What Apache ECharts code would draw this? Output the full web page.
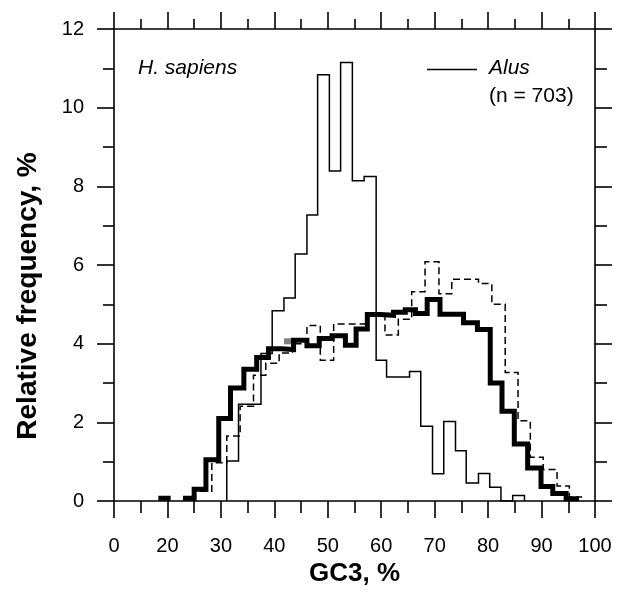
<!DOCTYPE html>
<html>
<head>
<meta charset="utf-8">
<script src="https://cdn.jsdelivr.net/npm/echarts@6/dist/echarts.min.js"></script>
<style>
html,body{margin:0;padding:0;background:#fff;}
#chart{width:622px;height:592px;}
</style>
</head>
<body>
<div id="chart"></div>
<script>
// ---- data ----
// x-axis tick labels (first tick shows "0")
const xTickValues = [10, 20, 30, 40, 50, 60, 70, 80, 90, 100];
const xTickLabels = ["0", "20", "30", "40", "50", "60", "70", "80", "90", "100"];

// Alus (n = 703): thin solid histogram
const alusEdges  = [31.1, 33.3, 35.4, 37.5, 39.6, 41.8, 43.9, 46.1, 48.1, 50.3, 52.4, 54.6, 56.8, 59.05, 61.0, 63.2, 65.3, 67.4, 69.6, 71.7, 73.9, 75.9, 78.2, 80.3, 82.4, 84.6, 86.8];
const alusValues = [1.02, 2.46, 2.46, 3.75, 4.84, 5.16, 6.28, 7.27, 10.84, 8.39, 11.15, 8.14, 8.25, 3.58, 3.15, 3.15, 3.29, 1.90, 0.69, 2.02, 1.28, 0.46, 0.70, 0.35, 0.00, 0.14];

// thick solid histogram
const thickEdges  = [18.3, 20.6, 22.9, 25.0, 27.2, 29.6, 31.8, 34.3, 36.7, 38.9, 41.3, 43.6, 46.1, 48.4, 50.8, 53.3, 55.3, 57.4, 59.8, 62.3, 64.5, 66.4, 68.6, 71.0, 73.2, 75.4, 78.0, 80.4, 82.6, 84.9, 87.4, 89.9, 92.1, 94.6, 97.0];
const thickValues = [0.07, null, 0.07, 0.30, 1.05, 2.10, 2.87, 3.35, 3.65, 3.87, 3.85, 4.09, 3.95, 4.13, 4.20, 3.96, 4.37, 4.74, 4.72, 4.80, 4.86, 4.77, 5.12, 4.75, 4.75, 4.53, 4.36, 3.00, 2.28, 1.45, 0.84, 0.37, 0.19, 0.06];

// dashed histogram
const dashEdges  = [26.1, 28.3, 31.1, 33.6, 36.1, 38.4, 40.9, 43.4, 46.1, 48.6, 51.1, 53.6, 57.2, 60.7, 63.2, 65.7, 68.2, 70.8, 73.2, 75.7, 78.2, 80.7, 83.2, 85.6, 87.9, 90.3, 92.9, 95.2, 97.6];
const dashValues = [0.25, 0.97, 1.65, 2.41, 3.20, 3.50, 3.76, 4.00, 4.46, 3.58, 4.50, 4.50, 4.73, 4.22, 4.62, 5.32, 6.08, 5.27, 5.64, 5.64, 5.53, 5.00, 3.27, 2.04, 1.11, 0.80, 0.38, 0.10];

// grey histogram (only a small piece is visible above the thick one)
const greyEdges  = [41.8, 43.3];
const greyValues = [4.06];

// ---- build step runs ----
function stepRuns(edges, values) {
  const runs = []; let cur = [];
  for (let i = 0; i < values.length; i++) {
    const v = values[i];
    if (v === null) { if (cur.length) runs.push(cur); cur = []; continue; }
    cur.push([edges[i], v], [edges[i + 1], v]);
  }
  if (cur.length) runs.push(cur);
  return runs;
}

const FONT = '"Liberation Sans", Arial, Helvetica, sans-serif';
const series = [];
function addRuns(runs, style, z) {
  runs.forEach(r => series.push({
    type: 'line', data: r, symbol: 'none', showSymbol: false, silent: true,
    animation: false, z: z,
    lineStyle: Object.assign({ join: 'miter', cap: 'butt' }, style)
  }));
}
addRuns(stepRuns(greyEdges, greyValues), { color: '#808080', width: 6 }, 1);
addRuns(stepRuns(thickEdges, thickValues), { color: '#000', width: 5 }, 2);
addRuns(stepRuns(dashEdges, dashValues), { color: '#000', width: 1.5, type: [7, 4] }, 3);
{
  const r = stepRuns(alusEdges, alusValues)[0];
  r.unshift([alusEdges[0], 0]);
  r.push([alusEdges[alusEdges.length - 1], 0]);
  addRuns([r], { color: '#000', width: 1.5 }, 4);
}

const axisLineStyle = { color: '#000', width: 1.6 };
function xAx(pos, labels) {
  return {
    type: 'value', min: 10, max: 100, interval: 10, position: pos,
    axisLine: { show: true, onZero: false, lineStyle: axisLineStyle },
    axisTick: { show: true, inside: false, length: 17, lineStyle: axisLineStyle },
    minorTick: { show: true, splitNumber: 2, length: pos === 'top' ? 10 : 12, lineStyle: axisLineStyle },
    splitLine: { show: false }, minorSplitLine: { show: false },
    axisLabel: labels ? {
      show: true, fontSize: 20, color: '#000', margin: 35, fontFamily: FONT,
      formatter: v => { const i = xTickValues.indexOf(v); return i >= 0 ? xTickLabels[i] : ''; }
    } : { show: false },
    name: labels ? 'GC3, %' : '', nameLocation: 'middle', nameGap: 60,
    nameTextStyle: { fontSize: 26, fontWeight: 'bold', color: '#000', fontFamily: FONT }
  };
}
function yAx(pos, labels) {
  return {
    type: 'value', min: 0, max: 12, interval: 2, position: pos,
    axisLine: { show: true, onZero: false, lineStyle: axisLineStyle },
    axisTick: { show: true, inside: false, length: 17, lineStyle: axisLineStyle },
    minorTick: { show: true, splitNumber: 2, length: pos === 'left' ? 11 : 12, lineStyle: axisLineStyle },
    splitLine: { show: false }, minorSplitLine: { show: false },
    axisLabel: labels ? { show: true, fontSize: 20, color: '#000', margin: 30, fontFamily: FONT } : { show: false },
    name: ''
  };
}

const chart = echarts.init(document.getElementById('chart'), null, { renderer: 'canvas' });
chart.setOption({
  animation: false,
  backgroundColor: '#fff',
  textStyle: { fontFamily: FONT },
  grid: { left: 114, top: 29, right: 27, bottom: 89, containLabel: false },
  xAxis: [xAx('bottom', true), xAx('top', false)],
  yAxis: [yAx('left', true), yAx('right', false)],
  series: series.map(s => Object.assign(s, { xAxisIndex: 0, yAxisIndex: 0 })),
  graphic: [
    { type: 'text', x: 28, y: 296, rotation: Math.PI / 2,
      style: { text: 'Relative frequency, %', font: 'bold 28px ' + FONT, fill: '#000', align: 'center', verticalAlign: 'middle' } },
    { type: 'text', left: 138, top: 58, style: { text: 'H. sapiens', font: 'italic 21px ' + FONT, fill: '#000' } },
    { type: 'line', shape: { x1: 427, y1: 69.5, x2: 477, y2: 69.5 }, style: { stroke: '#000', lineWidth: 1.6 } },
    { type: 'text', left: 489, top: 58, style: { text: 'Alus', font: 'italic 21px ' + FONT, fill: '#000' } },
    { type: 'text', left: 489, top: 86, style: { text: '(n = 703)', font: '21px ' + FONT, fill: '#000' } }
  ]
});
</script>
</body>
</html>
